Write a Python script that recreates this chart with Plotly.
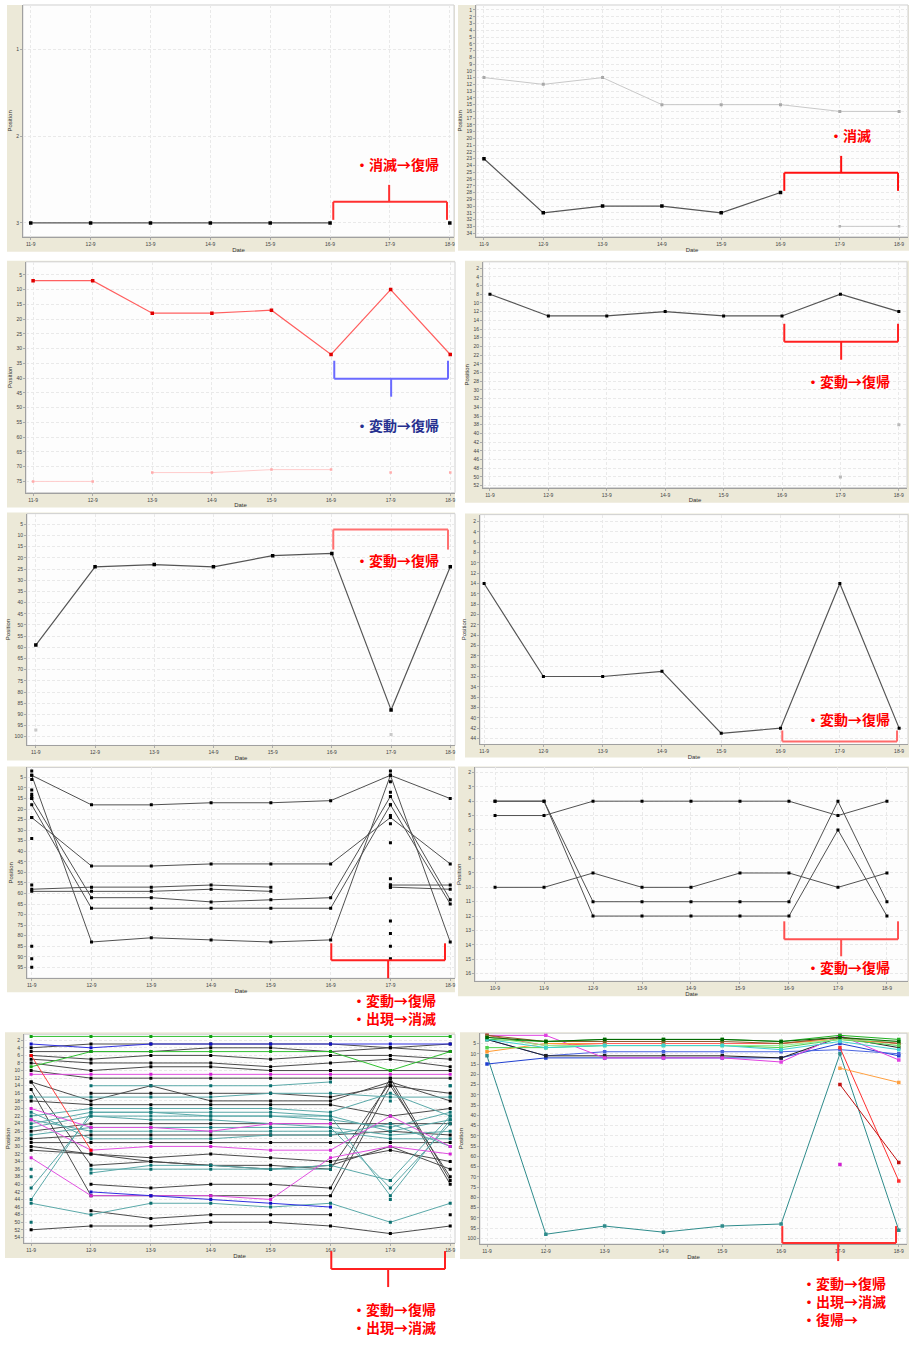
import plotly.graph_objects as go

W, H = 913, 1354

# ---------------- data ----------------
DATES = ["11-9", "12-9", "13-9", "14-9", "15-9", "16-9", "17-9", "18-9"]
DATES_P8 = ["10-9", "11-9", "12-9", "13-9", "14-9", "15-9", "16-9", "17-9", "18-9"]

# Panel 1
P1_TICKS = [1, 2, 3]
P1_SITE = [3, 3, 3, 3, 3, 3, None, 3]

# Panel 2
P2_TICKS = list(range(1, 35))
P2_OTHER = [11, 12, 11, 15, 15, 15, 16, 16]
P2_SITE = [23, 31, 30, 30, 31, 28, None, None]
P2_NEW = [None, None, None, None, None, None, 33, 33]

# Panel 3
P3_TICKS = [5, 10, 15, 20, 25, 30, 35, 40, 45, 50, 55, 60, 65, 70, 75]
P3_SITE = [7, 7, 18, 18, 17, 32, 10, 32]
P3_FAINT_A = [75, 75, None, None, None, None, None, None]
P3_FAINT_B = [None, None, 72, 72, 71, 71, None, None]
P3_FAINT_PTS = [None, None, None, None, None, None, 72, 72]

# Panel 4
P4_TICKS = list(range(2, 53, 2))
P4_SITE = [8, 13, 13, 12, 13, 13, 8, 12]
P4_PTS = [None, None, None, None, None, None, 50, 38]

# Panel 5
P5_TICKS = list(range(5, 101, 5))
P5_SITE = [59, 24, 23, 24, 19, 18, 88, 24]
P5_PTS = [97, None, None, None, None, None, 99, None]

# Panel 6
P6_TICKS = list(range(2, 45, 2))
P6_SITE = [14, 32, 32, 31, 43, 42, 14, 42]

# Panel 7
P7_TICKS = list(range(5, 96, 5))
P7_LINES = [
    [4, 18, 18, 17, 17, 16, 4, 15],
    [24, 47, 47, 46, 46, 46, 24, 46],
    [58, 57, 57, 56, 57, None, 56, 56],
    [59, 59, 59, 58, 59, None, 57, 58],
    [15, 62, 62, 64, 63, 62, 14, 63],
    [18, 67, 67, 67, 67, 67, 18, 65],
    [4, 83, 81, 82, 83, 82, 4, 83],
]
P7_PTS_A = [2, 6, 11, 13, 14, 15, 24, 34, 56, 85, 91, 95]
P7_PTS_B = [2, 4, 7, 12, 14, 18, 23, 27, 36, 53, 56, 57, 73, 79, 85, 91]

# Panel 8
P8_TICKS = list(range(2, 17))
P8_LINES = [
    [5, 5, 4, 4, 4, 4, 4, 5, 4],
    [4, 4, 11, 11, 11, 11, 11, 4, 11],
    [4, 4, 12, 12, 12, 12, 12, 6, 12],
    [10, 10, 9, 10, 10, 9, 9, 10, 9],
]

# Panel 9
P9_TICKS = list(range(2, 55, 2))
P9_LINES = [
    [4, 3, 3, 3, 3, 3, 4, 3],
    [5, 5, 5, 4, 4, 5, 4, 5],
    [6, 7, 6, 6, 7, 6, 6, 7],
    [7, 8, 8, 8, 9, 8, 7, 9],
    [8, 10, 9, 9, 10, 10, 10, 10],
    [10, 12, 12, 12, 12, 12, 12, 12],
    [13, 18, 14, 18, 18, 18, 13, 18],
    [None, 16, 16, 16, 16, 17, 14, 16],
    [18, 19, 19, 19, 19, 19, 22, 20],
    [26, 24, 24, 24, 24, 24, 24, 24],
    [28, 27, 27, 27, 27, 27, 26, 27],
    [29, 29, 29, 29, 29, 29, 29, 29],
    [30, 32, 34, 35, 36, 35, 30, 36],
    [None, 47, 49, 48, 48, 48, None, 48],
    [52, 51, 51, 50, 50, 51, 53, 51],
    [13, 35, 34, 35, 35, 36, 13, 40],
    [15, 43, 43, 43, 43, 43, 14, 38],
    [None, 40, 41, 40, 40, 41, 12, 39],
    [31, 32, 33, 32, 33, 34, 31, 34],
    [None, 14, 14, 14, 14, 13, None, 14],
    [17, 17, 17, 17, 16, 16, 17, 17],
    [22, 20, 20, 20, 20, 21, 16, 22],
    [24, 21, 21, 22, 22, 22, 26, 23],
    [25, 22, 22, 22, 22, 23, 25, 21],
    [27, 25, 25, 25, 25, 25, 27, 26],
    [23, 26, 26, 26, 26, 26, 28, 28],
    [21, 28, 28, 28, 27, 27, 24, 30],
    [41, 22, 23, 23, 24, 25, 41, 24],
    [44, 21, 21, 21, 21, 22, 43, 23],
    [None, 37, 35, 35, 36, 35, 39, 22],
    [None, 36, 36, 36, 36, 36, None, None],
    [45, 48, 45, 45, 46, 45, 50, 45],
    [20, 25, 25, 26, 24, 24, None, None],
    [23, 31, 30, 30, 31, 31, 22, 30],
    [33, 43, 43, 43, 44, 33, 30, 32],
    [11, 11, 11, 11, 11, 11, 11, 11],
    [None, 42, 43, 44, 45, 46, None, None],
    [3, 4, 3, 3, 3, 3, 3, 3],
    [6, 31, None, None, None, None, None, None],
    [9, 5, 5, 5, 5, 5, 10, 5],
    [1, 1, 1, 1, 1, 1, 1, 1],
]
P9_KIND = ["K"] * 19 + ["T"] * 13 + ["M", "M", "M", "M", "B", "B", "R", "G", "G"]
P9_PTS_DATES = ["11-9", "11-9", "11-9", "11-9", "17-9", "17-9", "17-9", "18-9", "18-9"]
P9_PTS_VALS = [17, 36, 38, 50, 18, 39, 44, 14, 17]

# Panel 10
P10_TICKS = list(range(5, 101, 5))
P10_LINES = [
    [11, 98, 94, 97, 94, 93, 10, 96],
    [15, 12, 12, 12, 12, 12, 5, 11],
    [3, 11, 9, 9, 9, 9, 8, 10],
    [3, 11, 11, 11, 11, 12, 2, 7],
    [1, 1, 12, 12, 12, 14, 1, 13],
    [None, None, None, None, None, None, 7, 72],
    [None, None, None, None, None, None, 25, 63],
    [None, None, None, None, None, None, 17, 24],
    [9, 5, 5, 5, 5, 5, 3, 5],
    [1, 6, 5, 5, 5, 5, 2, 5],
    [1, 4, 4, 4, 4, 5, 2, 5],
    [3, 4, 3, 3, 3, 4, 1, 3],
    [7, 7, 6, 6, 6, 7, 3, 6],
    [2, 6, 6, 6, 6, 6, 3, 4],
    [3, 7, 6, 6, 6, 8, 4, 8],
    [2, 4, 3, 3, 3, 4, 2, 4],
]
P10_COLORS = ["#2e8b8b", "#1f3fd0", "#4a64e0", "#202020", "#e040e0", "#ff3030",
              "#c01010", "#ffa040", "#ff9a30", "#ff6060", "#8b5a2b", "#20b020",
              "#50d050", "#90ee90", "#40d0d0", "#006400"]
P10_PT_DATE = ["17-9"]
P10_PT_VAL = [64]

# ---------------- styles / geometry ----------------
KIND_STYLE = {
    "K": ("#4a4a4a", "#000000"),
    "T": ("#5aa8a8", "#0a6e6e"),
    "M": ("#e050e0", "#d020d0"),
    "B": ("#3030e0", "#1010c0"),
    "G": ("#30c030", "#10a010"),
    "R": ("#ff4040", "#ff0000"),
}

# n, cats, plot box (x0,x1,y0,y1 px), frame box, xrange, yrange, ticks
PANELS = [
    (1, DATES, (22, 454, 5, 237), (6, 455, 5, 252), [-0.13, 7.07], [3.16, 0.49], P1_TICKS),
    (2, DATES, (476, 909, 5, 237), (458, 910, 5, 251), [-0.135, 7.15], [34.55, 0.26], P2_TICKS),
    (3, DATES, (25, 455, 262, 493), (6, 455, 261, 508), [-0.12, 7.08], [78.8, 0.6], P3_TICKS),
    (4, DATES, (483, 908, 262, 488), (465, 910, 261, 503), [-0.12, 7.14], [52.46, 0.55], P4_TICKS),
    (5, DATES, (26, 455, 514, 746), (6, 455, 513, 761), [-0.15, 7.08], [103.9, 0.2], P5_TICKS),
    (6, DATES, (480, 909, 515, 745), (465, 910, 514, 758), [-0.07, 7.15], [45.16, 0.65], P6_TICKS),
    (7, DATES, (26, 455, 768, 979), (6, 455, 767, 993), [-0.08, 7.08], [100.2, 0.26], P7_TICKS),
    (8, DATES_P8, (475, 909, 768, 982), (458, 910, 767, 997), [-0.41, 8.43], [16.54, 1.65], P8_TICKS),
    (9, DATES, (23, 455, 1035, 1244), (4, 455, 1033, 1259), [-0.12, 7.08], [55.5, 0.42], P9_TICKS),
    (10, DATES, (480, 908, 1034, 1245), (460, 910, 1033, 1260), [-0.12, 7.14], [102.8, -0.02], P10_TICKS),
]


def px(x):
    return x / W


def py(y):
    return 1 - y / H


fig = go.Figure()
shapes = []
annotations = []
layout = dict(
    width=W, height=H, margin=dict(l=0, r=0, t=0, b=0, pad=0),
    paper_bgcolor="white", plot_bgcolor="rgba(0,0,0,0)", showlegend=False,
    font=dict(family="Liberation Sans", size=5, color="#333333"),
)

for n, cats, pb, fb, xr, yr, yt in PANELS:
    sx = "" if n == 1 else str(n)
    shapes.append(dict(type="rect", xref="paper", yref="paper", x0=px(fb[0]), x1=px(fb[1]),
                       y0=py(fb[3]), y1=py(fb[2]), fillcolor="#ece9d8", line=dict(width=0), layer="below"))
    shapes.append(dict(type="rect", xref="paper", yref="paper", x0=px(pb[0]), x1=px(pb[1]),
                       y0=py(pb[3]), y1=py(pb[2]), fillcolor="#fdfdfd",
                       line=dict(width=1, color="#d0d0d0"), layer="below"))
    common = dict(
        showgrid=True, gridcolor="#e9e9e9", griddash="3px,2px", gridwidth=1,
        showline=True, linecolor="#a0a0a0", linewidth=1, zeroline=False,
        ticks="outside", ticklen=2, tickcolor="#aaaaaa",
        tickfont=dict(size=5, color="#444444"), fixedrange=True,
    )
    layout["xaxis" + sx] = dict(
        domain=[px(pb[0]), px(pb[1])], anchor="y" + sx, type="category",
        categoryorder="array", categoryarray=cats, range=xr,
        title=dict(text="Date", font=dict(size=6, color="#333333"), standoff=1),
        **common,
    )
    layout["yaxis" + sx] = dict(
        domain=[py(pb[3]), py(pb[2])], anchor="x" + sx, range=yr,
        tickmode="array", tickvals=yt,
        title=dict(text="Position", font=dict(size=6, color="#333333"), standoff=3),
        **common,
    )


def add(n, cats, vals, lc, mc, mode="lines+markers", width=1, size=3):
    sx = "" if n == 1 else str(n)
    fig.add_trace(go.Scatter(
        x=cats, y=vals, xaxis="x" + sx, yaxis="y" + sx, mode=mode,
        line=dict(color=lc, width=width), connectgaps=False,
        marker=dict(symbol="square", size=size, color=mc),
        hoverinfo="skip", showlegend=False,
    ))


# Panel 1
add(1, DATES, P1_SITE, "#555555", "#000000", width=1.2, size=3.5)
# Panel 2
add(2, DATES, P2_OTHER, "#c8c8c8", "#a8a8a8")
add(2, DATES, P2_NEW, "#c8c8c8", "#b0b0b0", size=2.5)
add(2, DATES, P2_SITE, "#555555", "#000000", width=1.2, size=3.5)
# Panel 3
add(3, DATES, P3_FAINT_A, "#ffcccc", "#ffaaaa", size=2.5)
add(3, DATES, P3_FAINT_B, "#ffcccc", "#ffaaaa", size=2.5)
add(3, DATES, P3_FAINT_PTS, "#ffcccc", "#ffaaaa", mode="markers", size=2.5)
add(3, DATES, P3_SITE, "#ff6060", "#e00000", width=1.2, size=3.5)
# Panel 4
add(4, DATES, P4_PTS, "#c0c0c0", "#b8b8b8", mode="markers", size=3)
add(4, DATES, P4_SITE, "#555555", "#000000", width=1.2, size=3)
# Panel 5
add(5, DATES, P5_PTS, "#c8c8c8", "#c8c8c8", mode="markers", size=3)
add(5, DATES, P5_SITE, "#555555", "#000000", width=1.2, size=3.5)
# Panel 6
add(6, DATES, P6_SITE, "#555555", "#000000", width=1.2, size=3)
# Panel 7
for vals in P7_LINES:
    add(7, DATES, vals, "#505050", "#000000", size=3)
add(7, ["11-9"] * len(P7_PTS_A), P7_PTS_A, "#000", "#000000", mode="markers", size=3)
add(7, ["17-9"] * len(P7_PTS_B), P7_PTS_B, "#000", "#000000", mode="markers", size=3)
# Panel 8
for vals in P8_LINES:
    add(8, DATES_P8, vals, "#505050", "#000000", size=3)
# Panel 9
for vals, kind in zip(P9_LINES, P9_KIND):
    lc, mc = KIND_STYLE[kind]
    add(9, DATES, vals, lc, mc, size=3)
add(9, P9_PTS_DATES, P9_PTS_VALS, "#0a6e6e", "#0a6e6e", mode="markers", size=3)
# Panel 10
for vals, col in zip(P10_LINES, P10_COLORS):
    add(10, DATES, vals, col, col, size=3.5)
add(10, P10_PT_DATE, P10_PT_VAL, "#d020d0", "#d020d0", mode="markers", size=3.5)


# ---------------- annotation brackets & notes ----------------
def bracket(x0, x1, ybar, yleg, ystem, color, xstem=None):
    segs = [(x0, ybar, x1, ybar), (x0, ybar, x0, yleg), (x1, ybar, x1, yleg)]
    if ystem is not None:
        xs = xstem if xstem is not None else (x0 + x1) / 2
        segs.append((xs, ybar, xs, ystem))
    for a, b, c, d in segs:
        shapes.append(dict(type="line", xref="paper", yref="paper", x0=px(a), y0=py(b),
                           x1=px(c), y1=py(d), line=dict(color=color, width=2), layer="above"))


bracket(333, 447, 202, 220, 185, "#ff3030", 389)
bracket(785, 899, 173, 191, 156, "#ff1010", 842)
bracket(334, 448, 379, 361, 397, "#6a6aff", 391)
bracket(785, 899, 342, 324, 360, "#ff2020", 842)
bracket(333, 448, 530, 550, None, "#ff7070")
bracket(783, 898, 742, 731, None, "#ff6a6a")
bracket(331, 445, 961, 944, 979, "#ff2020", 388)
bracket(785, 899, 940, 922, 957, "#ff5050", 842)
bracket(331, 445, 1270, 1252, 1288, "#ff2020", 388)
bracket(783, 897, 1244, 1227, 1262, "#ff3030", 839)

# (left x, top y, lines, colour)
NOTES = [
    (353, 152, ["・消滅→復帰"], "#ff0000"),
    (828, 123, ["・消滅"], "#ff0000"),
    (353, 413, ["・変動→復帰"], "#26308f"),
    (805, 369, ["・変動→復帰"], "#ff0000"),
    (353, 548, ["・変動→復帰"], "#ff0000"),
    (805, 708, ["・変動→復帰"], "#ff0000"),
    (350, 989, ["・変動→復帰", "・出現→消滅"], "#ff0000"),
    (805, 956, ["・変動→復帰"], "#ff0000"),
    (350, 1298, ["・変動→復帰", "・出現→消滅"], "#ff0000"),
    (801, 1272, ["・変動→復帰", "・出現→消滅", "・復帰→"], "#ff0000"),
]
for x, y, lines, c in NOTES:
    annotations.append(dict(x=px(x), y=py(y), xref="paper", yref="paper", xanchor="left",
                            yanchor="top", align="left",
                            text="<br>".join("<b>" + t + "</b>" for t in lines),
                            showarrow=False,
                            font=dict(family="Noto Sans CJK JP", size=14, color=c)))

layout["shapes"] = shapes
layout["annotations"] = annotations
fig.update_layout(**layout)
fig.write_html(
    "out.html",
    config={"displayModeBar": False},
    post_script="document.body.style.margin='0';document.body.style.overflow='hidden';",
)
